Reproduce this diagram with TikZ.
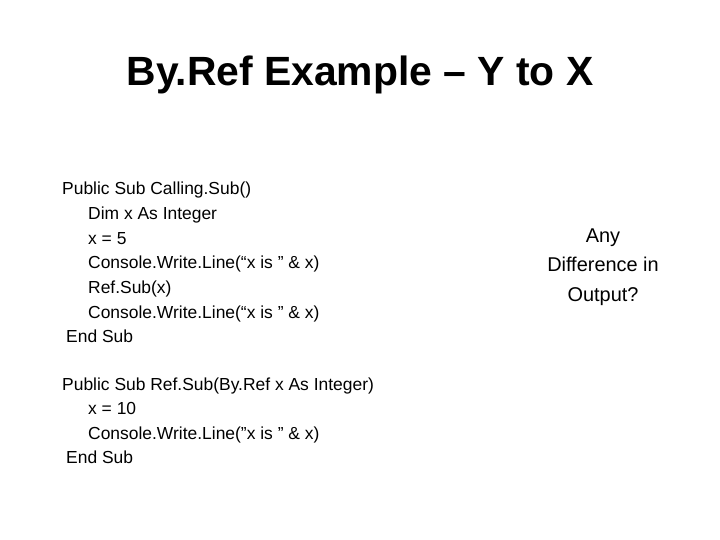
\documentclass[tikz,border=0pt]{standalone}
\usepackage{fontspec}
\setmainfont{Liberation Sans}
\begin{document}
\begin{tikzpicture}[x=1bp,y=-1bp,
  code/.style={anchor=base west,inner sep=0,font=\fontsize{17.5}{20}\selectfont},
  side/.style={anchor=base,inner sep=0,font=\fontsize{20}{24}\selectfont}]
\useasboundingbox[fill=white] (0,0) rectangle (720,540);
\node[anchor=base,inner sep=0,font=\bfseries\fontsize{41}{48}\selectfont] (title) at (360,86) {By.Ref Example – Y to X};
\node[code] (a1) at (62,195) {Public Sub Calling.Sub()};
\node[code] (a2) at (88,220) {Dim x As Integer};
\node[code] (a3) at (88,245) {x = 5};
\node[code] (a4) at (88,269) {Console.Write.Line(“x is " \& x)};
\node[code] (a5) at (88,293) {Ref.Sub(x)};
\node[code] (a6) at (88,318) {Console.Write.Line(“x is " \& x)};
\node[code] (a7) at (66,342) {End Sub};
\node[code] (b1) at (62,390) {Public Sub Ref.Sub(By.Ref x As Integer)};
\node[code] (b2) at (88,414) {x = 10};
\node[code] (b3) at (88,439) {Console.Write.Line("x is " \& x)};
\node[code] (b4) at (66,463) {End Sub};
\node[side] (c1) at (603,243) {Any};
\node[side] (c2) at (603,272) {Difference in};
\node[side] (c3) at (603,301) {Output?};
\end{tikzpicture}
\end{document}
